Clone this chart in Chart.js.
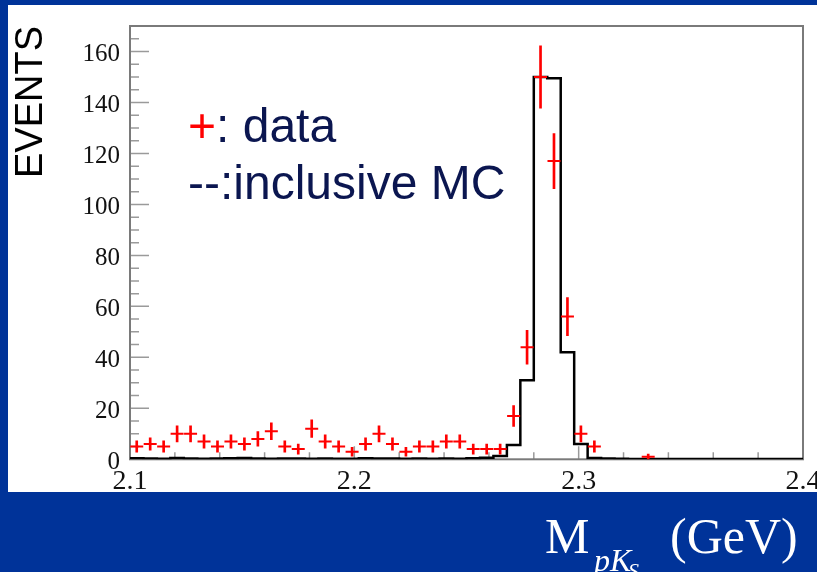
<!DOCTYPE html>
<html>

<head>
    <meta charset="utf-8">
    <title>M(pKs) spectrum</title>
    <script src="https://cdn.jsdelivr.net/npm/chart.js"></script>
    <style>
        body { margin: 0; background: #003399; }
        #panel { position: absolute; left: 8px; top: 5px; width: 809px; height: 487px; background: #ffffff; }
        #massChart { position: absolute; left: 0; top: 0; }
    </style>
</head>

<body>
    <div id="panel"></div>
    <canvas id="massChart" width="817" height="572"></canvas>

<script>
    // histogram binning: 50 bins of 6 MeV between 2.1 and 2.4 GeV
    var binLow = 2.1;
    var binWidth = 0.006;

    // data: events per bin (null = empty bin)
    var dataCounts = [5, 6, 5, 10, 10, 7, 5, 7, 6, 8,
                      11, 5, 4, 12, 7, 5, 3, 6, 10, 6,
                      3, 5, 5, 7, 7, 4, 4, 4, 17, 44,
                      150, 117, 56, 10, 5, null, null, null, 1, null,
                      null, null, null, null, null, null, null, null, null, null];

    // inclusive MC, same binning
    var mcCounts = [0.4, 0.3, 0.2, 0.5, 0.3, 0.2, 0.3, 0.4, 0.5, 0.3,
                    0.2, 0.3, 0.3, 0.2, 0.3, 0.2, 0.2, 0.4, 0.3, 0.3,
                    0.2, 0.3, 0.2, 0.3, 0.2, 0.4, 0.6, 1.3, 5.6, 31,
                    150, 149.5, 42, 6, 0.5, 0.3, 0.2, 0.1, 0.1, 0.1,
                    0.1, 0.1, 0.1, 0.1, 0.1, 0.1, 0.1, 0.1, 0.1, 0.1];

    var xTickLabels = [2.1, 2.2, 2.3, 2.4];
    var yTickLabels = [0, 20, 40, 60, 80, 100, 120, 140, 160];

    var markerPoints = [];
    var errorBars = [];
    for (var i = 0; i < dataCounts.length; i++) {
        var n = dataCounts[i];
        if (n === null) continue;
        var xc = binLow + (i + 0.5) * binWidth;
        var err = Math.sqrt(n);
        markerPoints.push({ x: xc, y: n });
        errorBars.push({ x: xc, y: [n - err, n + err] });
    }

    var mcSteps = [];
    for (var k = 0; k < mcCounts.length; k++) {
        mcSteps.push({ x: binLow + k * binWidth, y: mcCounts[k] });
    }
    mcSteps.push({ x: binLow + mcCounts.length * binWidth, y: mcCounts[mcCounts.length - 1] });

    // frame, inner tick marks and the free text
    var decorations = {
        id: 'decorations',
        beforeDatasetsDraw: function(chart) {
            var ctx = chart.ctx;
            var a = chart.chartArea;
            var xs = chart.scales.x, ys = chart.scales.y;
            ctx.save();
            ctx.strokeStyle = '#9a9a9a';
            ctx.lineWidth = 1.5;
            ctx.beginPath();
            for (var v = 0; v <= 165; v += 5) {
                var py = ys.getPixelForValue(v);
                var len = (v % 20 === 0) ? 19 : 9;
                ctx.moveTo(a.left, py);
                ctx.lineTo(a.left + len, py);
            }
            for (var t = 0; t <= 15; t++) {
                var px = xs.getPixelForValue(2.1 + t * 0.02);
                var l2 = (t % 5 === 0) ? 13 : 7;
                ctx.moveTo(px, a.bottom);
                ctx.lineTo(px, a.bottom - l2);
            }
            ctx.stroke();
            ctx.strokeStyle = '#7a7a7a';
            ctx.lineWidth = 2;
            ctx.strokeRect(a.left, a.top, a.right - a.left, a.bottom - a.top);
            ctx.restore();
        },
        afterDraw: function(chart) {
            var ctx = chart.ctx;
            ctx.save();
            ctx.textBaseline = 'alphabetic';
            ctx.textAlign = 'left';
            ctx.font = '48px "Liberation Sans"';
            ctx.fillStyle = '#ff0000';
            ctx.fillText('+', 188, 142);
            var w = ctx.measureText('+').width;
            ctx.fillStyle = '#0b1650';
            ctx.fillText(': data', 188 + w, 142);
            ctx.fillText('--:inclusive MC', 188, 199);

            ctx.fillStyle = '#ffffff';
            ctx.font = '50px "Liberation Serif"';
            ctx.fillText('M', 545, 553);
            ctx.font = 'italic 32px "Liberation Serif"';
            ctx.fillText('pK', 594, 571);
            ctx.font = 'italic 22px "Liberation Serif"';
            ctx.fillText('S', 628, 578);
            ctx.font = '50px "Liberation Serif"';
            ctx.fillText('(GeV)', 670, 553);
            ctx.restore();
        }
    };

    var ctx = document.getElementById('massChart').getContext('2d');
    new Chart(ctx, {
        type: 'scatter',
        data: {
            datasets: [
                {
                    label: 'data',
                    type: 'scatter',
                    data: markerPoints,
                    pointStyle: 'line',
                    pointRadius: 6.5,
                    borderColor: '#ff0000',
                    borderWidth: 2
                },
                {
                    label: 'data errors',
                    type: 'bar',
                    data: errorBars,
                    backgroundColor: '#ff0000',
                    barThickness: 2,
                    borderWidth: 0
                },
                {
                    label: 'inclusive MC',
                    type: 'line',
                    data: mcSteps,
                    stepped: 'before',
                    borderColor: '#000000',
                    borderWidth: 2.5,
                    pointRadius: 0,
                    fill: false
                }
            ]
        },
        options: {
            responsive: false,
            devicePixelRatio: 1,
            animation: false,
            events: [],
            layout: { padding: { left: 0, right: 14, top: 26, bottom: 0 }, autoPadding: false },
            plugins: { legend: { display: false }, tooltip: { enabled: false } },
            scales: {
                x: {
                    type: 'linear',
                    min: 2.1,
                    max: 2.4,
                    offset: false,
                    grid: { display: false, drawTicks: false },
                    border: { display: false },
                    afterFit: function(scale) {
                        scale.height = 112.7;
                        scale.paddingLeft = 0;
                        scale.paddingRight = 0;
                    },
                    afterBuildTicks: function(scale) {
                        scale.ticks = xTickLabels.map(function(v) { return { value: v }; });
                    },
                    ticks: {
                        color: '#111111',
                        padding: 6,
                        maxRotation: 0,
                        autoSkip: false,
                        font: { family: 'Liberation Serif', size: 28 },
                        callback: function(v) { return v.toFixed(1); }
                    }
                },
                y: {
                    type: 'linear',
                    min: 0,
                    max: 170,
                    grid: { display: false, drawTicks: false },
                    border: { display: false },
                    afterFit: function(scale) {
                        scale.width = 130;
                        scale.paddingTop = 0;
                        scale.paddingBottom = 0;
                    },
                    afterBuildTicks: function(scale) {
                        scale.ticks = yTickLabels.map(function(v) { return { value: v }; });
                    },
                    ticks: {
                        color: '#111111',
                        padding: 10,
                        labelOffset: 3,
                        font: { family: 'Liberation Serif', size: 25 }
                    },
                    title: {
                        display: true,
                        text: 'EVENTS',
                        align: 'end',
                        color: '#000000',
                        padding: { top: 13, bottom: 0 },
                        font: { family: 'Liberation Sans', size: 38, lineHeight: 1 }
                    }
                }
            }
        },
        plugins: [decorations]
    });
</script>
</body>

</html>
